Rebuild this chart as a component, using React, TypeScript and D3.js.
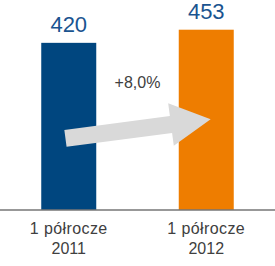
import React from "react";
import * as d3 from "d3";

const categories = ["1 półrocze|2011", "1 półrocze|2012"];
const values = [420, 453];
const barColors = ["#00467F", "#EE7D00"];
const changeLabel = "+8,0%";

const W = 275;
const H = 266;

export default function App() {
  const x = d3
    .scaleBand<string>()
    .domain(categories)
    .range([0, W])
    .paddingInner(0.6)
    .paddingOuter(0.3);
  const y = d3.scaleLinear().domain([0, 500]).range([210, 11]);
  const bw = x.bandwidth();

  // arrow geometry derived from scales
  const sx = (x(categories[0]) as number) + bw * 0.44;
  const sy = y(180);
  const tx = (x(categories[1]) as number) + bw * 0.58;
  const ty = y(228);
  const L = Math.hypot(tx - sx, ty - sy);
  const ang = (Math.atan2(ty - sy, tx - sx) * 180) / Math.PI;
  const hw = 8.5;
  const headL = 40;
  const headW = 21.5;
  const arrowPts: [number, number][] = [
    [0, -hw],
    [L - headL, -hw],
    [L - headL, -headW],
    [L, 0],
    [L - headL, headW],
    [L - headL, hw],
    [0, hw],
  ];
  const font = "Arial, 'Liberation Sans', sans-serif";

  return (
    <svg
      width={W}
      height={H}
      style={{ position: "absolute", left: 0, top: 0, background: "#fff" }}
      fontFamily={font}
    >
      {categories.map((c, i) => (
        <rect
          key={c}
          x={x(c)}
          y={y(values[i])}
          width={bw}
          height={y(0) - y(values[i])}
          fill={barColors[i]}
        />
      ))}
      <polygon
        points={arrowPts.map((p) => p.join(",")).join(" ")}
        transform={`translate(${sx},${sy}) rotate(${ang})`}
        fill="#D9D9D9"
      />
      <line x1={0} x2={W} y1={y(0)} y2={y(0)} stroke="#767676" strokeWidth={1.5} />
      {categories.map((c, i) => (
        <text
          key={"v" + c}
          x={(x(c) as number) + bw / 2}
          y={y(values[i]) - 11}
          textAnchor="middle"
          fontSize={22}
          fill="#1A5490"
        >
          {values[i]}
        </text>
      ))}
      <text
        x={((x(categories[0]) as number) + (x(categories[1]) as number) + bw) / 2}
        y={88}
        textAnchor="middle"
        fontSize={16}
        fill="#404040"
      >
        {changeLabel}
      </text>
      {categories.map((c) => {
        const [l1, l2] = c.split("|");
        const cx = (x(c) as number) + bw / 2;
        return (
          <g key={"c" + c} fontSize={16} fill="#404040" textAnchor="middle">
            <text x={cx} y={234} letterSpacing={0.4}>{l1}</text>
            <text x={cx} y={254}>{l2}</text>
          </g>
        );
      })}
    </svg>
  );
}
